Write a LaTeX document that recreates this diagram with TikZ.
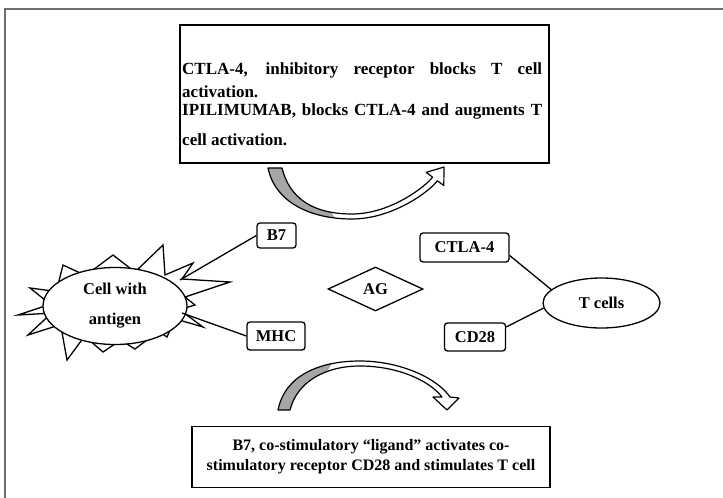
\documentclass[tikz,border=0pt]{standalone}
\usepackage{fontspec}
\setmainfont{Liberation Serif}
\usetikzlibrary{shapes.geometric}
\definecolor{arrowgrey}{HTML}{A6A6A6}
\definecolor{framegrey}{HTML}{6E6E6E}
\tikzset{
  lbl/.style={font=\bfseries\fontsize{16.5}{19}\selectfont},
  smallbox/.style={lbl, draw, line width=1.3pt, rounded corners=3pt, inner sep=0pt},
  cellshape/.style={lbl, draw, line width=1.3pt, ellipse, fill=white, inner sep=0pt, align=center},
  bigbox/.style={draw, line width=1.6pt, inner sep=0pt},
  toptext/.style={font=\bfseries\fontsize{17}{20}\selectfont, inner sep=0pt, anchor=base west},
  conn/.style={line width=1.3pt},
  arrowline/.style={line width=1.2pt, line join=round},
  framel/.style={draw=framegrey, line width=1.3pt}
}
\def\topband{(268,168) .. controls (275,202) and (310,219) .. (352,219) .. controls (392,219) and (429,192) .. (437.4,180.8) -- (443.8,185.6) -- (444,167) -- (426.2,172.4) -- (432.6,177.2) .. controls (425,187) and (390,214) .. (352,214) .. controls (315,214) and (290,200) .. (282,168) -- cycle}
\def\botband{(278,410) .. controls (285,375) and (320,361) .. (360,361) .. controls (400,361) and (437,378) .. (450,397) -- (459,398) -- (447,410) -- (433,397) -- (442,397) .. controls (428,379) and (395,366) .. (360,366) .. controls (325,366) and (297,382) .. (290,410) -- cycle}
\begin{document}
\begin{tikzpicture}[x=1pt,y=-1pt]
\useasboundingbox (0,0) rectangle (723,498);
\fill[white] (0,0) rectangle (723,498);
% outer frame
\draw[framel] (5,498) -- (5,9) -- (723,9);

% top box
\node[bigbox, minimum width=369pt, minimum height=138pt] (topbox) at (364.5,94) {};
\node[toptext] (t1) at (182,74) {\makebox[360pt][s]{CTLA-4, inhibitory receptor blocks T cell}};
\node[toptext] (t2) at (182,97) {activation.};
\node[toptext] (t3) at (182,115) {\makebox[360pt][s]{IPILIMUMAB, blocks CTLA-4 and augments T}};
\node[toptext] (t4) at (182,145) {cell activation.};

% top curved arrow
\fill[white] \topband;
\begin{scope}
  \clip \topband;
  \fill[arrowgrey] (250,150) -- (300,150) -- (338,225) -- (250,235) -- cycle;
\end{scope}
\draw[arrowline] \topband;

% bottom curved arrow
\fill[white] \botband;
\begin{scope}
  \clip \botband;
  \fill[arrowgrey] (260,420) -- (302,420) -- (336,355) -- (260,350) -- cycle;
\end{scope}
\draw[arrowline] \botband;

% bottom box
\node[bigbox, minimum width=358pt, minimum height=61pt, align=center,
      font=\bfseries\fontsize{16}{20}\selectfont] (botbox) at (371,457)
  {B7, co-stimulatory “ligand” activates co-\\stimulatory receptor CD28 and stimulates T cell};

% spiky cell
\draw[line width=1.3pt, line join=miter, fill=white]
  (135,272) -- (163,245) -- (165,275) -- (193,263) -- (182,279) -- (230,282)
  -- (185,297) -- (195,305) -- (179.5,309.6) -- (203,327) -- (175.1,318.8)
  -- (167,337) -- (158.4,331.4) -- (135,349) -- (120.6,340.1) -- (103,352)
  -- (84.6,336.2) -- (67,360) -- (60.6,324.6) -- (28,335) -- (51.6,313.1)
  -- (18,315) -- (50.3,304.2) -- (30,288) -- (56.3,291.5) -- (63,265)
  -- (85.6,275.5) -- (113,255) -- cycle;
\node[cellshape, minimum width=144pt, minimum height=77pt] (cell) at (115,306)
  {Cell with\\[11pt]antigen};

% labels
\node[smallbox, minimum width=39pt, minimum height=25pt] (b7) at (276.5,235.5) {B7};
\node[smallbox, minimum width=58pt, minimum height=28pt] (mhc) at (276,336) {MHC};
\node[lbl, draw, line width=1.3pt, diamond, inner sep=0pt, minimum width=95pt, minimum height=44pt] (ag) at (375.5,289) {AG};
\node[smallbox, minimum width=89pt, minimum height=29pt] (ctla) at (464.5,247.5) {CTLA-4};
\node[smallbox, minimum width=61pt, minimum height=28pt] (cd28) at (475,337) {CD28};
\node[lbl, draw, line width=1.3pt, ellipse, inner sep=0pt, minimum width=117pt, minimum height=50pt] (tcells) at (601.5,303) {T cells};

% connectors
\coordinate (b7end) at (180,280);
\coordinate (mhcend) at (182,313);
\draw[conn] (b7.west) -- (b7end);
\draw[conn] (mhc.west) -- (mhcend);
\draw[conn] ([yshift=-8pt]ctla.east) -- (tcells.165);
\draw[conn] ([yshift=10pt]cd28.east) -- (tcells.185);
\end{tikzpicture}
\end{document}
